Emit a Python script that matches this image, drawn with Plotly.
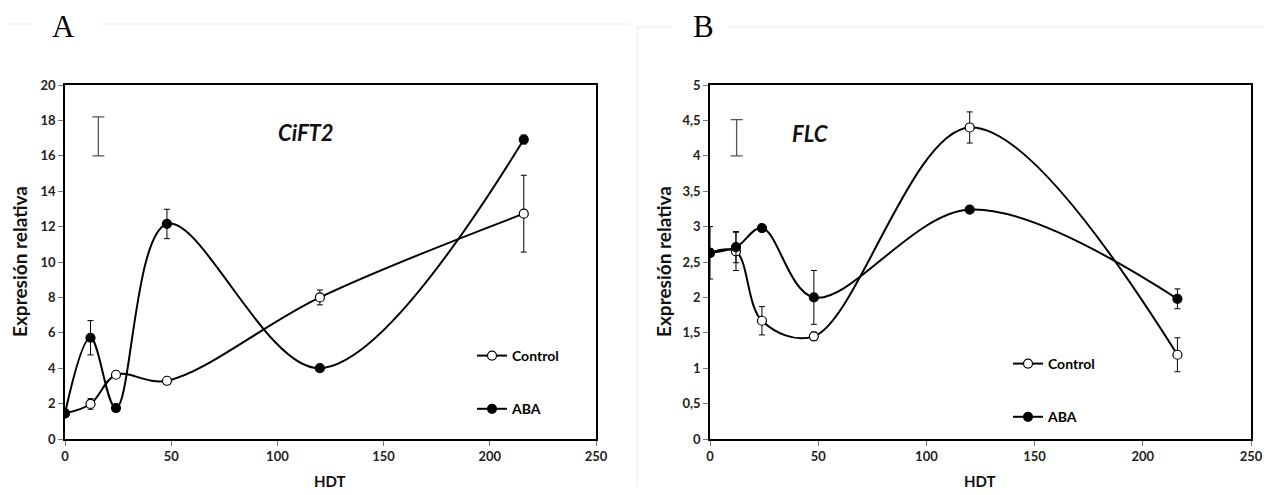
import plotly.graph_objects as go

# ---------------- data ----------------
hdt = [0, 12, 24, 48, 120, 216]

a_control = [1.45, 1.98, 3.63, 3.29, 8.0, 12.73]
a_control_err = [0.1, 0.3, 0.2, 0.12, 0.42, 2.17]
a_aba = [1.45, 5.72, 1.75, 12.15, 4.0, 16.92]
a_aba_err = [0.1, 0.97, 0.1, 0.83, 0.1, 0.25]

b_control = [2.63, 2.65, 1.67, 1.45, 4.40, 1.19]
b_control_err = [0.37, 0.27, 0.2, 0.06, 0.22, 0.24]
b_aba = [2.63, 2.71, 2.98, 2.0, 3.24, 1.98]
b_aba_err = [0.05, 0.22, 0.03, 0.38, 0.03, 0.14]

# reference (LSD-type) error bar drawn inside each panel
a_ref_x = [15.7]
a_ref_y = [17.1]
a_ref_err = [1.1]
b_ref_x = [12.3]
b_ref_y = [4.255]
b_ref_err = [0.255]

x_ticks = [0, 50, 100, 150, 200, 250]
a_y_ticks = [0, 2, 4, 6, 8, 10, 12, 14, 16, 18, 20]
b_y_ticks = [0, 0.5, 1, 1.5, 2, 2.5, 3, 3.5, 4, 4.5, 5]
b_y_ticktext = ["0", "0,5", "1", "1,5", "2", "2,5", "3", "3,5", "4", "4,5", "5"]

# ---------------- figure ----------------
# the page body has an 8px margin, so the figure is 8px smaller and all
# layout positions below are given in page pixels and shifted by 8
OFF = 8
W, H = 1272 - OFF, 495 - OFF


def px(x):
    return (x - OFF) / W


def py(y):
    return 1 - (y - OFF) / H


fig = go.Figure()

FONT = "Lato"
TICKFONT = dict(family=FONT, size=13, color="#222222", weight="bold")


def add_series(x, y, err, name, filled, xa, ya, legend):
    fig.add_trace(go.Scatter(
        x=x, y=y, name=name, mode="lines+markers",
        line=dict(color="black", width=2, shape="spline", smoothing=1.0),
        marker=dict(size=9, color="black" if filled else "white",
                    line=dict(color="black", width=1.2), symbol="circle"),
        error_y=dict(type="data", array=err, visible=True, color="black",
                     thickness=1, width=3),
        xaxis=xa, yaxis=ya, legend=legend, legendgroup=name + legend,
    ))


add_series(hdt, a_control, a_control_err, "Control", False, "x", "y", "legend")
add_series(hdt, a_aba, a_aba_err, "ABA", True, "x", "y", "legend")
add_series(hdt, b_control, b_control_err, "Control", False, "x2", "y2", "legend2")
add_series(hdt, b_aba, b_aba_err, "ABA", True, "x2", "y2", "legend2")

for rx, ry, re, xa, ya in [(a_ref_x, a_ref_y, a_ref_err, "x", "y"),
                           (b_ref_x, b_ref_y, b_ref_err, "x2", "y2")]:
    fig.add_trace(go.Scatter(
        x=rx, y=ry, mode="markers", showlegend=False,
        marker=dict(size=1, color="rgba(0,0,0,0)"),
        error_y=dict(type="data", array=re, visible=True, color="#555555",
                     thickness=1.3, width=6),
        xaxis=xa, yaxis=ya, hoverinfo="skip",
    ))

axis_common = dict(
    showline=True, linecolor="black", linewidth=1.5, mirror=True,
    ticks="outside", ticklen=5, tickcolor="#777777", tickwidth=1,
    showgrid=False, zeroline=False, tickfont=TICKFONT, automargin=False,
)

y_dom = [py(439), py(85)]

fig.update_layout(
    width=W, height=H,
    margin=dict(l=0, r=0, t=0, b=0),
    paper_bgcolor="white", plot_bgcolor="white",
    xaxis=dict(domain=[px(65), px(596)], range=[0, 250], tickvals=x_ticks,
               anchor="y", **axis_common),
    yaxis=dict(domain=y_dom, range=[0, 20], tickvals=a_y_ticks,
               anchor="x", **axis_common),
    xaxis2=dict(domain=[px(710), px(1251)], range=[0, 250], tickvals=x_ticks,
                anchor="y2", **axis_common),
    yaxis2=dict(domain=y_dom, range=[0, 5], tickvals=b_y_ticks,
                ticktext=b_y_ticktext, anchor="x2", **axis_common),
    legend=dict(x=px(472), y=py(340), xanchor="left", yanchor="top",
                bgcolor="rgba(0,0,0,0)", tracegroupgap=32, itemwidth=30,
                font=dict(family=FONT, size=14, color="black", weight="bold")),
    legend2=dict(x=px(1008), y=py(348), xanchor="left", yanchor="top",
                 bgcolor="rgba(0,0,0,0)", tracegroupgap=32, itemwidth=30,
                 font=dict(family=FONT, size=14, color="black", weight="bold")),
    showlegend=True,
)

annotations = [
    dict(text="<b><i>CiFT2</i></b>", x=306, y=132, size=22),
    dict(text="<b><i>FLC</i></b>", x=810, y=134, size=22),
    dict(text="<b>Expresión relativa</b>", x=20, y=262, size=19, angle=-90),
    dict(text="<b>Expresión relativa</b>", x=664, y=262, size=19, angle=-90),
    dict(text="<b>HDT</b>", x=330, y=481, size=15),
    dict(text="<b>HDT</b>", x=980, y=481, size=15),
]
for a in annotations:
    fig.add_annotation(
        text=a["text"], x=px(a["x"]), y=py(a["y"]), xref="paper", yref="paper",
        showarrow=False, xanchor="center", yanchor="middle",
        textangle=a.get("angle", 0),
        font=dict(family=FONT, size=a["size"], color="#111111"),
    )

for lab, lx, ly in [("A", 63, 27), ("B", 703, 27)]:
    fig.add_annotation(text=lab, x=px(lx), y=py(ly), xref="paper", yref="paper",
                       showarrow=False, xanchor="center", yanchor="middle",
                       font=dict(family="Liberation Serif", size=31, color="black"))

# faint frame lines of the original figure panels
faint = dict(color="#ececec", width=1)
for x0, ya, x1, yb in [(8, 24, 32, 24), (102, 24, 630, 24),
                       (637, 27, 672, 27), (728, 27, 1264, 27),
                       (637, 27, 637, 487)]:
    fig.add_shape(type="line", xref="paper", yref="paper",
                  x0=px(x0), x1=px(x1), y0=py(ya), y1=py(yb), line=faint)

fig.write_html("out.html")
